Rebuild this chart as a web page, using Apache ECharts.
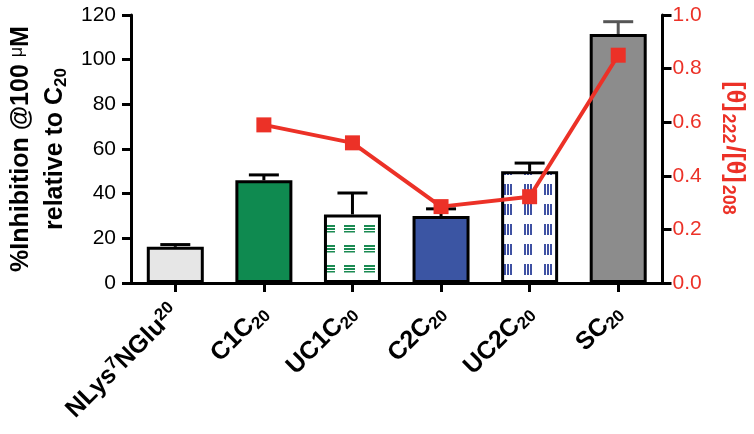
<!DOCTYPE html>
<html>
<head>
<meta charset="utf-8">
<script src="https://cdn.jsdelivr.net/npm/echarts@6/dist/echarts.min.js"></script>
<style>
html,body{margin:0;padding:0;background:#fff;}
#chart{width:754px;height:434px;}
</style>
</head>
<body>
<div id="chart"></div>
<script>
// ---- data ----
var categories = ['NLys7NGlu20', 'C1C20', 'UC1C20', 'C2C20', 'UC2C20', 'SC20'];
var categoryLabels = [
  '{b|NLys}{sup|7}{b|NGlu}{sup|20}',
  '{b|C1C}{sub|20}',
  '{b|UC1C}{sub|20}',
  '{b|C2C}{sub|20}',
  '{b|UC2C}{sub|20}',
  '{b|SC}{sub|20}'
];
var inhibition = [16.2, 46, 30.7, 30, 50, 111.5];
var inhibitionErr = [1, 2.4, 9.6, 3.2, 3.7, 5.5];
var ratio = [null, 0.59, 0.523, 0.285, 0.322, 0.85];
var leftTicks = [0, 20, 40, 60, 80, 100, 120];
var rightTicks = [0.0, 0.2, 0.4, 0.6, 0.8, 1.0];

// ---- patterns ----
function makePattern(kind, color) {
  var c = document.createElement('canvas');
  c.width = 20; c.height = 20;
  var g = c.getContext('2d');
  g.fillStyle = '#ffffff';
  g.fillRect(0, 0, 20, 20);
  g.fillStyle = color;
  if (kind === 'h') {
    g.fillRect(4, 5, 11, 2);
    g.fillRect(4, 8, 11, 2);
    g.fillRect(4, 11, 11, 1.5);
  } else {
    g.fillRect(4, 4, 2, 11);
    g.fillRect(7, 4, 2, 11);
    g.fillRect(10, 4, 2, 11);
  }
  return { image: c, repeat: 'repeat' };
}
var barColors = [
  '#e6e6e6',
  '#0f8a50',
  makePattern('h', '#1b8a52'),
  '#3b55a3',
  makePattern('v', '#3f51a3'),
  '#8c8c8c'
];
var errColors = ['#000', '#000', '#000', '#000', '#000', '#555'];

var chart = echarts.init(document.getElementById('chart'));
var font = 'Liberation Sans, Arial, Helvetica, sans-serif';
var red = '#ec3127';

var barData = inhibition.map(function (v, i) {
  return { value: v, itemStyle: { color: barColors[i] } };
});
var errData = inhibition.map(function (v, i) { return [i, v, v + inhibitionErr[i]]; });

chart.setOption({
  animation: false,
  backgroundColor: '#ffffff',
  grid: { left: 130, right: 91, top: 15, bottom: 151, containLabel: false },
  xAxis: [{
    type: 'category',
    data: categories,
    position: 'bottom',
    axisLine: { show: true, lineStyle: { color: '#000', width: 3 } },
    axisTick: { show: true, alignWithLabel: true, length: 9, lineStyle: { color: '#000', width: 3 } },
    axisLabel: {
      rotate: 45, margin: 26, interval: 0,
      formatter: function (val, idx) { return categoryLabels[idx]; },
      rich: {
        b: { fontFamily: font, fontWeight: 'bold', fontSize: 25, color: '#000' },
        sub: { fontFamily: font, fontWeight: 'bold', fontSize: 17, color: '#000', padding: [12, 0, 0, 0] },
        sup: { fontFamily: font, fontWeight: 'bold', fontSize: 17, color: '#000', padding: [0, 0, 12, 0] }
      }
    },
    splitLine: { show: false }
  }, {
    type: 'category',
    data: categories,
    position: 'top',
    axisLine: { show: true, lineStyle: { color: '#000', width: 3 } },
    axisTick: { show: false },
    axisLabel: { show: false },
    splitLine: { show: false }
  }],
  yAxis: [{
    type: 'value',
    min: 0, max: 120, interval: 20,
    position: 'left',
    axisLine: { show: true, lineStyle: { color: '#000', width: 3 } },
    axisTick: { show: true, length: 9, lineStyle: { color: '#000', width: 3 } },
    axisLabel: { fontFamily: font, fontSize: 21, color: '#000', margin: 15 },
    splitLine: { show: false },
    name: '{t|%Inhibition @100 }{m|μ}{t|M}\n{t|relative to C}{s|20}',
    nameLocation: 'middle',
    nameGap: 59,
    nameTextStyle: {
      rich: {
        t: { fontFamily: font, fontWeight: 'bold', fontSize: 25, color: '#000', lineHeight: 34 },
        m: { fontFamily: font, fontWeight: 'normal', fontSize: 18, color: '#000', lineHeight: 34, padding: [0, 0, 8, 0] },
        s: { fontFamily: font, fontWeight: 'bold', fontSize: 17, color: '#000', padding: [12, 0, 0, 0], lineHeight: 34 }
      }
    }
  }, {
    type: 'value',
    min: 0, max: 1, interval: 0.2,
    position: 'right',
    axisLine: { show: true, lineStyle: { color: '#000', width: 3 } },
    axisTick: { show: true, length: 9, lineStyle: { color: '#000', width: 3 } },
    axisLabel: {
      fontFamily: font, fontSize: 21, color: red, margin: 10,
      formatter: function (v) { return v.toFixed(1); }
    },
    splitLine: { show: false },
    name: '{t|[θ]}{s|222}{t|/[θ]}{s|208}',
    nameLocation: 'middle',
    nameRotate: -90,
    nameGap: 56,
    nameTextStyle: {
      rich: {
        t: { fontFamily: font, fontWeight: 'bold', fontSize: 25, color: red },
        s: { fontFamily: font, fontWeight: 'bold', fontSize: 18, color: red, padding: [12, 2, 0, 2] }
      }
    }
  }],
  series: [{
    type: 'bar',
    xAxisIndex: 0, yAxisIndex: 0,
    data: barData,
    barWidth: 57,
    itemStyle: { borderColor: '#000', borderWidth: 3 },
    z: 2
  }, {
    type: 'custom',
    xAxisIndex: 0, yAxisIndex: 0,
    data: errData,
    z: 3,
    renderItem: function (params, api) {
      var i = api.value(0);
      var base = api.coord([i, api.value(1)]);
      var top = api.coord([i, api.value(2)]);
      var col = errColors[params.dataIndex];
      return {
        type: 'group',
        children: [{
          type: 'line',
          shape: { x1: base[0], y1: base[1], x2: top[0], y2: top[1] },
          style: { stroke: col, lineWidth: 3 }
        }, {
          type: 'line',
          shape: { x1: top[0] - 15, y1: top[1], x2: top[0] + 15, y2: top[1] },
          style: { stroke: col, lineWidth: 3 }
        }]
      };
    }
  }, {
    type: 'line',
    xAxisIndex: 0, yAxisIndex: 1,
    data: ratio,
    symbol: 'rect',
    symbolSize: 15,
    connectNulls: false,
    lineStyle: { color: red, width: 4 },
    itemStyle: { color: red },
    z: 5
  }]
});
</script>
</body>
</html>
